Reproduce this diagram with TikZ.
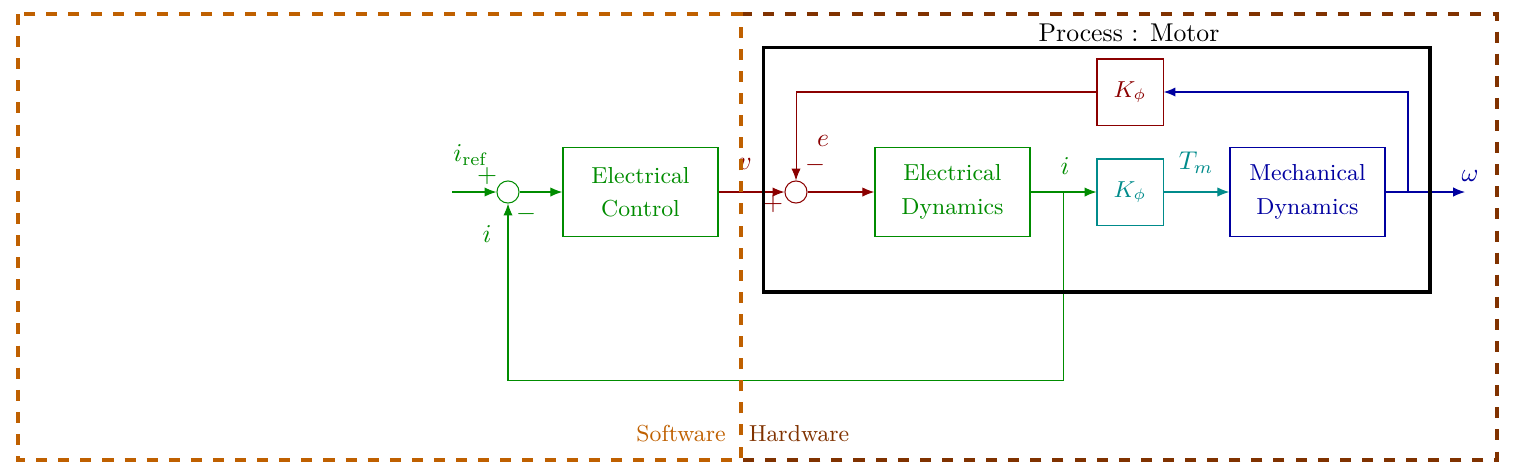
\documentclass[tikz,border=0pt]{standalone}
\usetikzlibrary{arrows.meta}
\definecolor{swcol}{RGB}{191,96,0}
\definecolor{hwcol}{RGB}{128,50,0}
\definecolor{gcol}{RGB}{0,140,0}
\definecolor{rcol}{RGB}{139,0,0}
\definecolor{tcol}{RGB}{0,139,139}
\definecolor{bcol}{RGB}{0,0,160}
\tikzset{
  blk/.style={draw, semithick, minimum width=60.3pt, minimum height=34.6pt, inner sep=0pt, align=center, font=\small},
  kblk/.style={draw, thin, minimum width=25.7pt, minimum height=25.7pt, inner sep=0pt, font=\small},
  sumc/.style={draw, circle, minimum size=8.6pt, inner sep=0pt},
  arr/.style={-{Latex[length=4.6pt,width=3.6pt]}},
  zone/.style={line width=1.4pt, dash pattern=on 4.3pt off 4.3pt},
  lbl/.style={inner sep=0pt}
}
\begin{document}
\begin{tikzpicture}[x=0.3891pt, y=-0.3891pt]
\useasboundingbox (0,0) rectangle (1519,473);
% nodes
\node[sumc, gcol] (s1) at (508,192) {};
\node[sumc, rcol] (s2) at (796,192) {};
\node[blk, gcol] (ec) at (640.5,192) {Electrical\\[2pt]Control};
\node[blk, gcol] (ed) at (952.5,192) {Electrical\\[2pt]Dynamics};
\node[kblk, rcol] (kr) at (1130,92) {$K_\phi$};
\node[kblk, tcol] (kt) at (1130,192) {$K_\phi$};
\node[blk, bcol] (md) at (1307.5,192) {Mechanical\\[2pt]Dynamics};
\coordinate (in) at (452,192);
\coordinate (out) at (1465,192);
\coordinate (br1) at (1063,192);
\coordinate (br2) at (1408,192);
% labels
\node[lbl, gcol] (lir) at (471,155) {$i_{\mathrm{ref}}$};
\node[lbl, gcol] (lp1) at (487,176) {$+$};
\node[lbl, gcol] (lm1) at (526,214) {$-$};
\node[lbl, gcol] (li1) at (487,234) {$i$};
\node[lbl, rcol] (lv) at (745,164) {$v$};
\node[lbl, rcol] (lp2) at (773,204) {$+$};
\node[lbl, rcol] (lm2) at (815,165) {$-$};
\node[lbl, rcol] (le) at (823,141) {$e$};
\node[lbl, gcol] (li2) at (1065,166) {$i$};
\node[lbl, tcol] (ltm) at (1196,163) {$T_m$};
\node[lbl, bcol] (lw) at (1470,176) {$\omega$};
% connectors
\draw[arr, gcol] (in) -- (s1);
\draw[arr, gcol] (s1) -- (ec);
\draw[arr, rcol] (ec) -- (s2);
\draw[arr, rcol] (s2) -- (ed);
\draw[arr, gcol] (ed) -- (kt);
\draw[arr, gcol] (br1) -- (1063,380) -| (s1.south);
\draw[arr, tcol] (kt) -- (md);
\draw[arr, bcol] (md) -- (out);
\draw[arr, bcol, semithick] (br2) |- (kr.east);
\draw[arr, rcol] (kr.west) -| (s2.north);
% process box
\node[draw, line width=1.2pt, minimum width=259.5pt, minimum height=95.3pt, inner sep=0pt] (pm) at (1096.5,169.5) {};
\node[lbl] (pt) at (1129,33) {Process : Motor};
% zones
\draw[zone, hwcol] (741,14) -- (1497,14) -- (1497,460) -- (741,460);
\draw[zone, swcol] (18,14) rectangle (741,460);
\node[lbl, swcol, font=\small] (sw) at (681,434) {Software};
\node[lbl, hwcol, font=\small] (hw) at (799,434) {Hardware};
\end{tikzpicture}
\end{document}
